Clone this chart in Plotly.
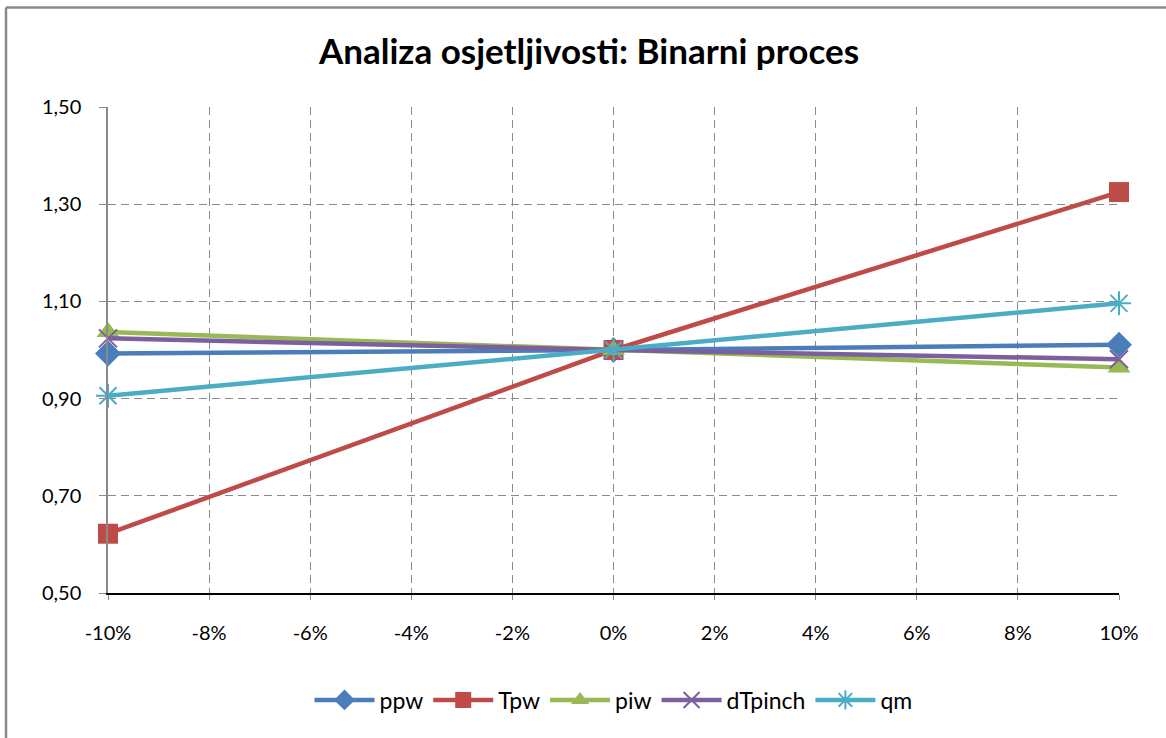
import plotly.graph_objects as go

x_vals = [-0.10, 0.0, 0.10]
ppw = [0.993, 1.0, 1.011]
tpw = [0.622, 1.0, 1.325]
piw = [1.037, 1.0, 0.964]
dtpinch = [1.024, 1.0, 0.981]
qm = [0.906, 1.0, 1.096]

series_names = ["ppw", "Tpw", "piw", "dTpinch", "qm"]
series_vals = [ppw, tpw, piw, dtpinch, qm]
colors = ["#4A7EBB", "#BE4B48", "#98B954", "#7D5FA0", "#4BACC6"]
symbols = ["diamond", "square", "triangle-up", "x-thin-open", "asterisk-open"]
sizes = [20, 20, 20, 18, 20]

x_ticks = [-0.10, -0.08, -0.06, -0.04, -0.02, 0.0, 0.02, 0.04, 0.06, 0.08, 0.10]
x_ticktext = ["-10%", "-8%", "-6%", "-4%", "-2%", "0%", "2%", "4%", "6%", "8%", "10%"]
y_ticks = [0.5, 0.7, 0.9, 1.1, 1.3, 1.5]
y_ticktext = ["0,50", "0,70", "0,90", "1,10", "1,30", "1,50"]

fig = go.Figure()
for name, vals, c, s, sz in zip(series_names, series_vals, colors, symbols, sizes):
    open_sym = s.endswith("open")
    fig.add_trace(go.Scatter(
        x=x_vals, y=vals, name=name, mode="lines+markers",
        line=dict(color=c, width=4.5),
        marker=dict(symbol=s, size=sz, color=c,
                    line=dict(color=c, width=2 if open_sym else 0)),
        cliponaxis=False,
    ))

L, R, T, B = 108, 47, 107, 145
W, H = 1166, 738
pw, ph = W - L - R, H - T - B

def px_x(p):
    return (p - L) / pw

def px_y(p):
    return (H - B - p) / ph

fig.update_layout(
    width=W, height=H,
    margin=dict(l=L, r=R, t=T, b=B),
    paper_bgcolor="white", plot_bgcolor="white",
    font=dict(family="Lato, Carlito, Calibri, sans-serif", size=20, color="black"),
    title=dict(text="<b>Analiza osjetljivosti: Binarni proces</b>",
               x=(589) / W, xanchor="center", y=1 - 52 / H, yanchor="middle",
               font=dict(size=35, color="black")),
    showlegend=True,
    legend=dict(orientation="h", x=0.5, xanchor="center", y=px_y(700), yanchor="middle",
                font=dict(size=23), itemwidth=60, tracegroupgap=0),
    xaxis=dict(range=[-0.10, 0.10], tickvals=x_ticks, ticktext=x_ticktext,
               showgrid=True, gridcolor="#8A8A8A", griddash="8px,5px", gridwidth=1.3,
               showline=True, linecolor="black", linewidth=1.5,
               ticks="outside", ticklen=5, tickcolor="#8A8A8A",
               zeroline=False, ticklabelstandoff=16),
    yaxis=dict(range=[0.5, 1.5], tickvals=y_ticks, ticktext=y_ticktext,
               showgrid=True, gridcolor="#8A8A8A", griddash="8px,5px", gridwidth=1.3,
               showline=True, linecolor="#8A8A8A", linewidth=1.5,
               ticks="outside", ticklen=7, tickcolor="#8A8A8A",
               zeroline=False, ticklabelstandoff=14),
    shapes=[
        dict(type="line", xref="paper", yref="paper",
             x0=px_x(6), x1=px_x(6), y0=px_y(7.5), y1=px_y(745),
             line=dict(color="#8A8A8A", width=2.5)),
        dict(type="line", xref="paper", yref="paper",
             x0=px_x(6), x1=px_x(1175), y0=px_y(7.5), y1=px_y(7.5),
             line=dict(color="#8A8A8A", width=2.5)),
    ],
)

fig.write_html("out.html", config={"displayModeBar": False},
               post_script="document.body.style.margin='0';")
